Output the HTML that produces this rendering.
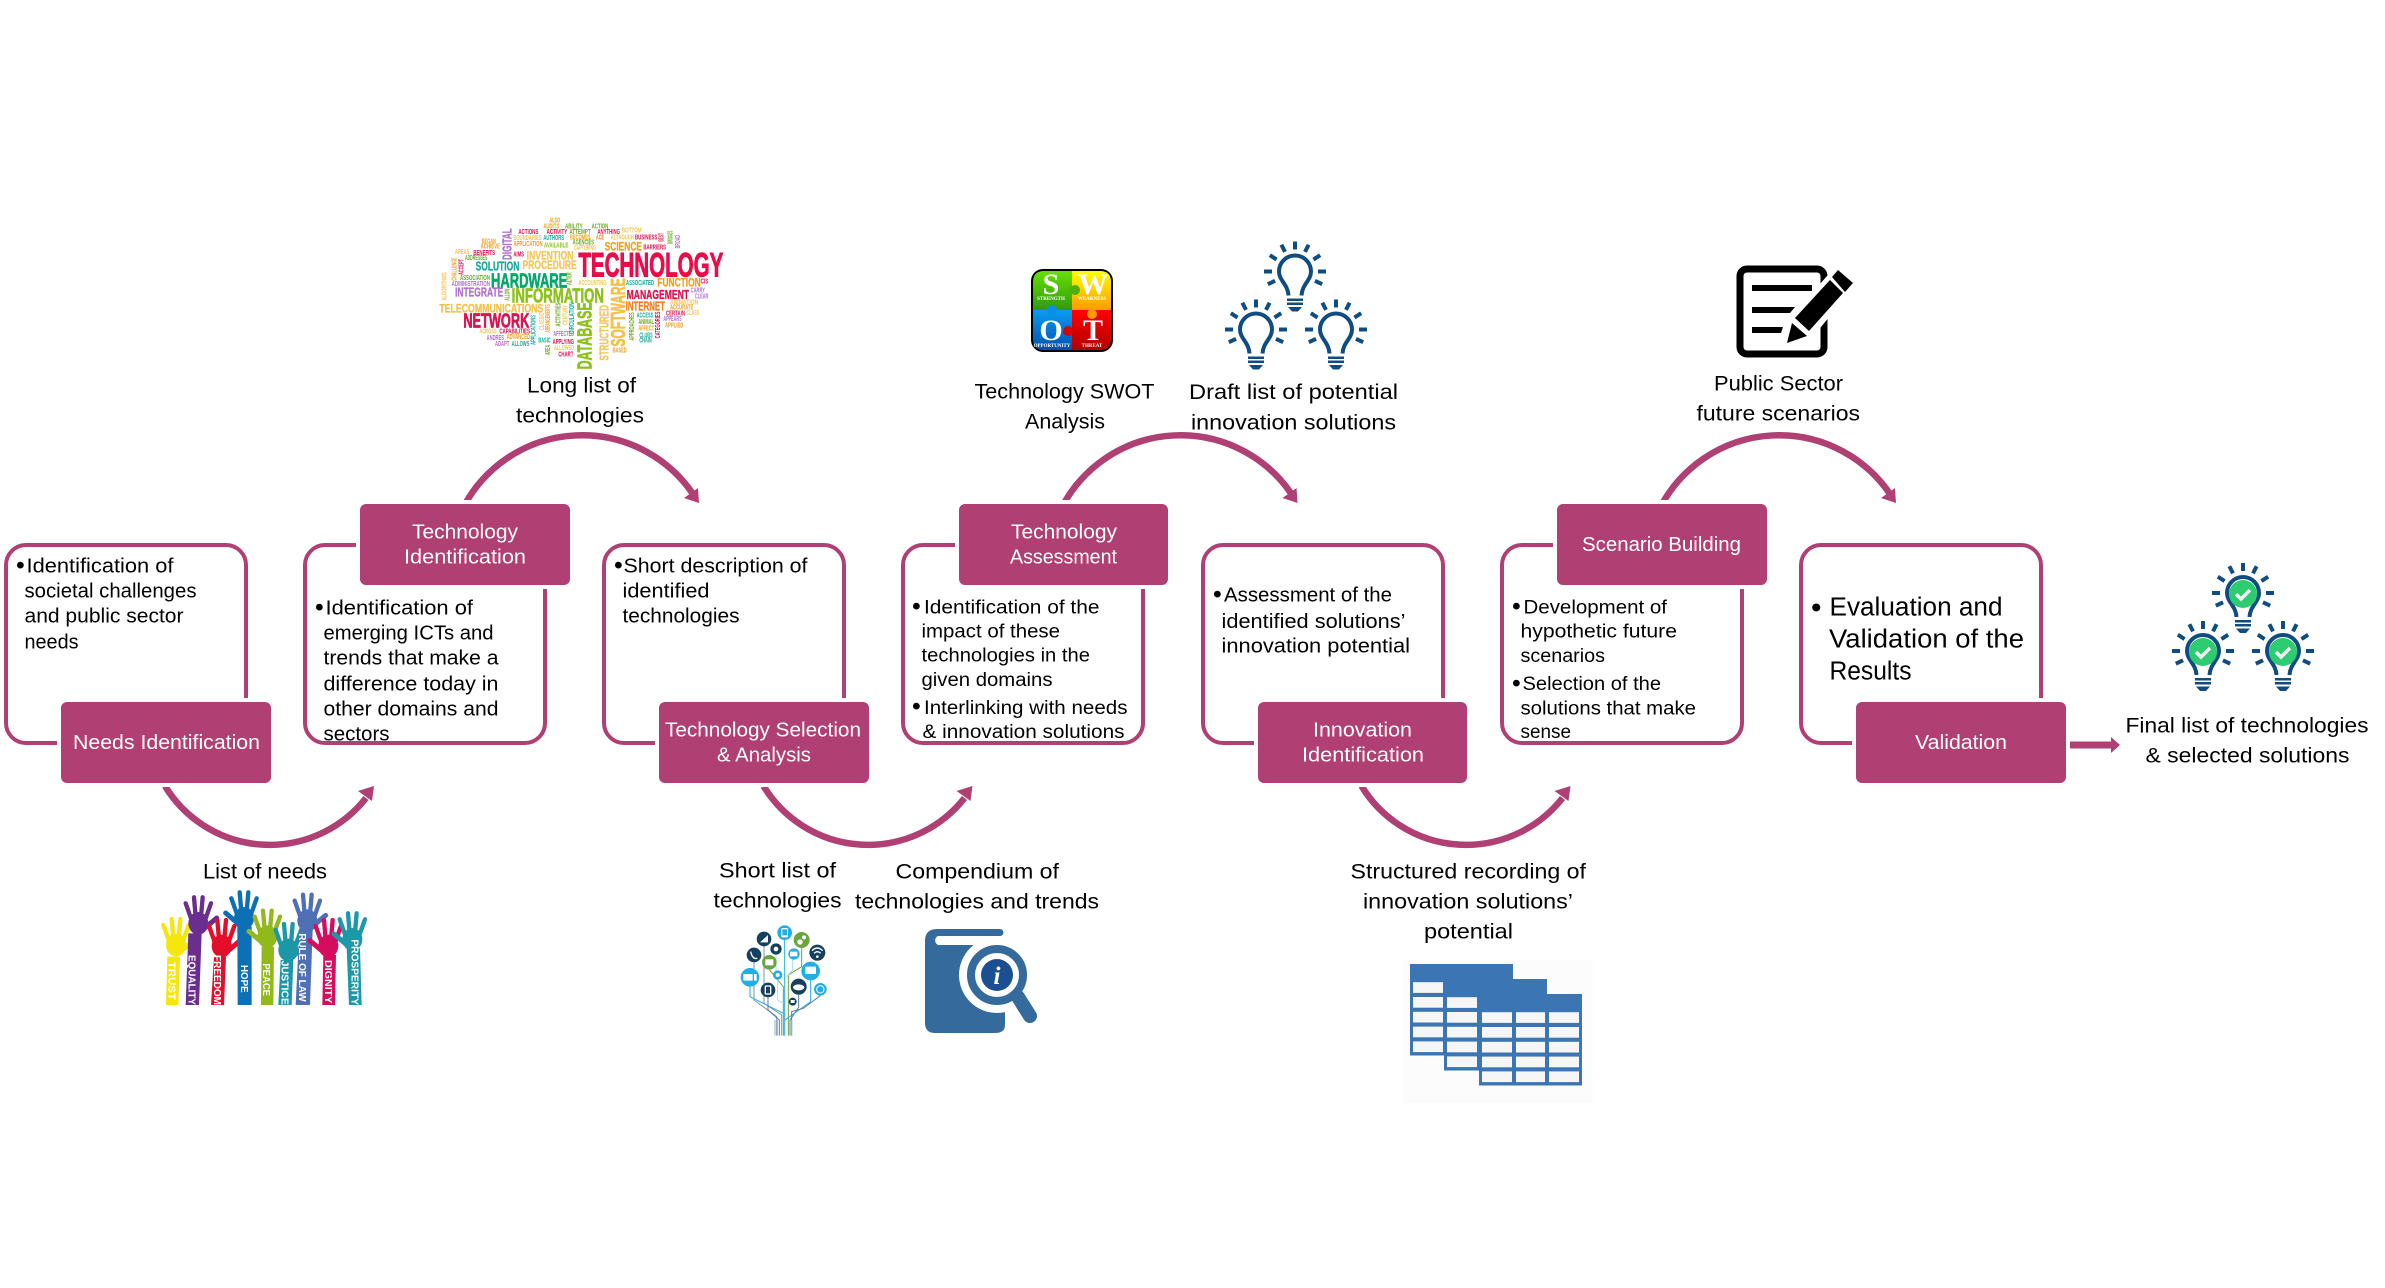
<!DOCTYPE html>
<html><head><meta charset="utf-8"><title>Process diagram</title>
<style>
html,body{margin:0;padding:0;background:#fff;width:2385px;height:1288px;overflow:hidden}
svg{display:block}
text{font-family:"Liberation Sans",sans-serif}
.w{fill:#fff;font-size:20.5px}
.b{fill:#000;font-size:20px}
.l{fill:#000;font-size:21.5px}
.d{fill:#000;font-size:19px}
.big{fill:#000;font-size:25.5px}
.bu{fill:#000;font-size:25px}
.wc text{font-weight:bold;font-size:22px}
.hd text{fill:#fff;font-weight:bold;font-size:30px}
</style></head><body>
<svg xmlns="http://www.w3.org/2000/svg" width="2385" height="1288" viewBox="0 0 2385 1288">
<defs>
<filter id="soft" x="-5%" y="-5%" width="110%" height="110%"><feGaussianBlur stdDeviation="0.35"/></filter>
<linearGradient id="gS" x1="0" y1="0" x2="0" y2="1"><stop offset="0" stop-color="#66e000"/><stop offset="1" stop-color="#2f9a10"/></linearGradient>
<linearGradient id="gW" x1="0" y1="0" x2="0" y2="1"><stop offset="0" stop-color="#ffff00"/><stop offset="1" stop-color="#ff9a00"/></linearGradient>
<linearGradient id="gO" x1="0" y1="0" x2="0" y2="1"><stop offset="0" stop-color="#0a9cf0"/><stop offset="1" stop-color="#0050b0"/></linearGradient>
<linearGradient id="gT" x1="0" y1="0" x2="0" y2="1"><stop offset="0" stop-color="#ff0000"/><stop offset="1" stop-color="#b00000"/></linearGradient>
<g id="top"><path d="M464 506A134 134 0 0 1 693 494" fill="none" stroke="#b03f73" stroke-width="6.500"/><path d="M699 503L684 498L698 488Z" fill="#b03f73"/></g>
<g id="bot"><path d="M165 786A122.500 122.500 0 0 0 366 798" fill="none" stroke="#b03f73" stroke-width="6.500"/><path d="M374 786L358 791L372 801Z" fill="#b03f73"/></g>
<g id="bulb" fill="none" stroke="#0f4c81">
<path d="M-6.500 24C-7 13-16 9-16 0A16 16 0 1 1 16 0C16 9 7 13 6.500 24" stroke-width="4"/>
<g stroke="none" fill="#0f4c81">
<rect x="-2" y="-30" width="4" height="8"/><rect x="-2" y="-30" width="4" height="8" transform="rotate(27)"/><rect x="-2" y="-30" width="4" height="8" transform="rotate(-27)"/><rect x="-2" y="-30" width="4" height="8" transform="rotate(57)"/><rect x="-2" y="-30" width="4" height="8" transform="rotate(-57)"/><rect x="-2" y="-31" width="4" height="8" transform="rotate(90)"/><rect x="-2" y="-31" width="4" height="8" transform="rotate(-90)"/><rect x="-2" y="-30" width="4" height="8" transform="rotate(115)"/><rect x="-2" y="-30" width="4" height="8" transform="rotate(-115)"/>
<rect x="-8" y="27" width="16" height="2.500"/><rect x="-8" y="31" width="16" height="2.500"/><path d="M-7 35.500H7L3 40H-3Z"/>
</g></g>
<g id="gbulb"><use href="#bulb"/><circle r="14" cy="1" fill="#2ecc71"/><path d="M-7 1L-2 6L7-3" fill="none" stroke="#f2f2f2" stroke-width="3.500"/></g>
<g id="hand" fill="currentColor" stroke="currentColor" stroke-linecap="round">
<ellipse rx="30" ry="34" stroke="none"/>
<path d="M-22-15L-38-60M-8-20L-13-78M8-20L13-78M22-15L38-60" stroke-width="13" fill="none"/>
<path d="M22 12L55-16" stroke-width="15" fill="none"/>
</g>
<g id="tbl">
<rect width="103" height="91.500" fill="#3b75b3"/>
<g fill="#f6f6f6">
<rect x="3" y="18.200" width="30" height="10.700"/><rect x="37" y="18.200" width="29" height="10.700"/><rect x="70" y="18.200" width="30" height="10.700"/>
<rect x="3" y="33" width="30" height="10.700"/><rect x="37" y="33" width="29" height="10.700"/><rect x="70" y="33" width="30" height="10.700"/>
<rect x="3" y="47.800" width="30" height="10.700"/><rect x="37" y="47.800" width="29" height="10.700"/><rect x="70" y="47.800" width="30" height="10.700"/>
<rect x="3" y="62.600" width="30" height="10.700"/><rect x="37" y="62.600" width="29" height="10.700"/><rect x="70" y="62.600" width="30" height="10.700"/>
<rect x="3" y="77.400" width="30" height="10.700"/><rect x="37" y="77.400" width="29" height="10.700"/><rect x="70" y="77.400" width="30" height="10.700"/>
</g></g>
</defs>
<rect width="2385" height="1288" fill="#fff"/>

<!-- arcs -->
<use href="#top"/><use href="#top" x="598.500"/><use href="#top" x="1197"/>
<use href="#bot"/><use href="#bot" x="598.500"/><use href="#bot" x="1196.500"/>

<!-- outline boxes -->
<g fill="none" stroke="#b03f73" stroke-width="4">
<rect x="6" y="545" width="240" height="198" rx="20"/>
<rect x="305" y="545" width="240" height="198" rx="20"/>
<rect x="604" y="545" width="240" height="198" rx="20"/>
<rect x="903" y="545" width="240" height="198" rx="20"/>
<rect x="1203" y="545" width="240" height="198" rx="20"/>
<rect x="1502" y="545" width="240" height="198" rx="20"/>
<rect x="1801" y="545" width="240" height="198" rx="20"/>
</g>

<!-- purple rects -->
<g fill="#fff">
<rect x="57" y="698" width="218" height="89" rx="8"/><rect x="356" y="500" width="218" height="89" rx="8"/><rect x="655" y="698" width="218" height="89" rx="8"/><rect x="955" y="500" width="217" height="89" rx="8"/><rect x="1254" y="698" width="217" height="89" rx="8"/><rect x="1553" y="500" width="218" height="89" rx="8"/><rect x="1852" y="698" width="218" height="89" rx="8"/>
</g>
<g fill="#b03f73">
<rect x="61" y="702" width="210" height="81" rx="6"/><rect x="360" y="504" width="210" height="81" rx="6"/><rect x="659" y="702" width="210" height="81" rx="6"/><rect x="959" y="504" width="209" height="81" rx="6"/><rect x="1258" y="702" width="209" height="81" rx="6"/><rect x="1557" y="504" width="210" height="81" rx="6"/><rect x="1856" y="702" width="210" height="81" rx="6"/>
</g>
<g class="tw">
<text class="w" x="73" y="749" textLength="187" lengthAdjust="spacingAndGlyphs">Needs Identification</text>
<text class="w" x="412" y="538.500" textLength="106" lengthAdjust="spacingAndGlyphs">Technology</text>
<text class="w" x="404" y="563.500" textLength="122" lengthAdjust="spacingAndGlyphs">Identification</text>
<text class="w" x="665" y="736.500" textLength="196" lengthAdjust="spacingAndGlyphs">Technology Selection</text>
<text class="w" x="717" y="761.500" textLength="94" lengthAdjust="spacingAndGlyphs">&amp; Analysis</text>
<text class="w" x="1011" y="538.500" textLength="106" lengthAdjust="spacingAndGlyphs">Technology</text>
<text class="w" x="1010" y="563.500" textLength="107" lengthAdjust="spacingAndGlyphs">Assessment</text>
<text class="w" x="1313" y="736.500" textLength="99" lengthAdjust="spacingAndGlyphs">Innovation</text>
<text class="w" x="1302" y="761.500" textLength="122" lengthAdjust="spacingAndGlyphs">Identification</text>
<text class="w" x="1582" y="551" textLength="159" lengthAdjust="spacingAndGlyphs">Scenario Building</text>
<text class="w" x="1915" y="749" textLength="92" lengthAdjust="spacingAndGlyphs">Validation</text>
</g>

<g transform="translate(0,-1.5)">
<!-- box 1 -->
<text class="bu" x="16" y="575">•</text>
<text class="b" x="26.500" y="574" textLength="147" lengthAdjust="spacingAndGlyphs">Identification of</text>
<text class="b" x="24.500" y="599" textLength="172" lengthAdjust="spacingAndGlyphs">societal challenges</text>
<text class="b" x="24.500" y="624" textLength="159" lengthAdjust="spacingAndGlyphs">and public sector</text>
<text class="b" x="24.500" y="650" textLength="54" lengthAdjust="spacingAndGlyphs">needs</text>
<!-- box 2 -->
<text class="bu" x="315" y="617">•</text>
<text class="b" x="325.500" y="616" textLength="147.500" lengthAdjust="spacingAndGlyphs">Identification of</text>
<text class="b" x="323.500" y="641" textLength="170" lengthAdjust="spacingAndGlyphs">emerging ICTs and</text>
<text class="b" x="323.500" y="666" textLength="175" lengthAdjust="spacingAndGlyphs">trends that make a</text>
<text class="b" x="323.500" y="692" textLength="175" lengthAdjust="spacingAndGlyphs">difference today in</text>
<text class="b" x="323.500" y="717" textLength="175" lengthAdjust="spacingAndGlyphs">other domains and</text>
<text class="b" x="323.500" y="742" textLength="66" lengthAdjust="spacingAndGlyphs">sectors</text>
<!-- box 3 -->
<text class="bu" x="614" y="575">•</text>
<text class="b" x="623.500" y="574" textLength="184" lengthAdjust="spacingAndGlyphs">Short description of</text>
<text class="b" x="622.500" y="599" textLength="87" lengthAdjust="spacingAndGlyphs">identified</text>
<text class="b" x="622.500" y="624" textLength="117" lengthAdjust="spacingAndGlyphs">technologies</text>
<!-- box 4 -->
<text class="bu" x="912" y="616">•</text>
<text class="d" x="924" y="615" textLength="175.500" lengthAdjust="spacingAndGlyphs">Identification of the</text>
<text class="d" x="921.500" y="639" textLength="138.500" lengthAdjust="spacingAndGlyphs">impact of these</text>
<text class="d" x="921.500" y="663" textLength="168.500" lengthAdjust="spacingAndGlyphs">technologies in the</text>
<text class="d" x="921.500" y="687.500" textLength="131" lengthAdjust="spacingAndGlyphs">given domains</text>
<text class="bu" x="912" y="716">•</text>
<text class="d" x="924" y="715.500" textLength="203.500" lengthAdjust="spacingAndGlyphs">Interlinking with needs</text>
<text class="d" x="922.500" y="739.500" textLength="202" lengthAdjust="spacingAndGlyphs">&amp; innovation solutions</text>
<!-- box 5 -->
<text class="bu" x="1213" y="604">•</text>
<text class="b" x="1224" y="603" textLength="168" lengthAdjust="spacingAndGlyphs">Assessment of the</text>
<text class="b" x="1221.500" y="629.500" textLength="184" lengthAdjust="spacingAndGlyphs">identified solutions’</text>
<text class="b" x="1221.500" y="654" textLength="188.500" lengthAdjust="spacingAndGlyphs">innovation potential</text>
<!-- box 6 -->
<text class="bu" x="1512" y="616">•</text>
<text class="d" x="1523.500" y="615" textLength="143.500" lengthAdjust="spacingAndGlyphs">Development of</text>
<text class="d" x="1520.500" y="639" textLength="156.500" lengthAdjust="spacingAndGlyphs">hypothetic future</text>
<text class="d" x="1520.500" y="663.500" textLength="84.500" lengthAdjust="spacingAndGlyphs">scenarios</text>
<text class="bu" x="1512" y="693">•</text>
<text class="d" x="1522.500" y="691.500" textLength="138.500" lengthAdjust="spacingAndGlyphs">Selection of the</text>
<text class="d" x="1520.500" y="716" textLength="175.500" lengthAdjust="spacingAndGlyphs">solutions that make</text>
<text class="d" x="1520.500" y="739.500" textLength="50.500" lengthAdjust="spacingAndGlyphs">sense</text>
<!-- box 7 -->
<text class="big" x="1811" y="619" style="font-size:30px">•</text>
<text class="big" x="1829.500" y="617" textLength="173" lengthAdjust="spacingAndGlyphs">Evaluation and</text>
<text class="big" x="1829" y="649" textLength="195" lengthAdjust="spacingAndGlyphs">Validation of the</text>
<text class="big" x="1829.500" y="681" textLength="82" lengthAdjust="spacingAndGlyphs">Results</text>

<!-- labels -->
<text class="l" x="527" y="394" textLength="109" lengthAdjust="spacingAndGlyphs">Long list of</text>
<text class="l" x="516" y="424" textLength="128" lengthAdjust="spacingAndGlyphs">technologies</text>
<text class="l" x="203" y="880" textLength="124" lengthAdjust="spacingAndGlyphs">List of needs</text>
<text class="l" x="719" y="879" textLength="117" lengthAdjust="spacingAndGlyphs">Short list of</text>
<text class="l" x="713.500" y="909" textLength="128" lengthAdjust="spacingAndGlyphs">technologies</text>
<text class="l" x="895.500" y="880" textLength="163.500" lengthAdjust="spacingAndGlyphs">Compendium of</text>
<text class="l" x="855" y="910" textLength="244" lengthAdjust="spacingAndGlyphs">technologies and trends</text>
<text class="l" x="974.500" y="400" textLength="180" lengthAdjust="spacingAndGlyphs">Technology SWOT</text>
<text class="l" x="1025" y="430" textLength="80" lengthAdjust="spacingAndGlyphs">Analysis</text>
<text class="l" x="1189" y="400.500" textLength="209" lengthAdjust="spacingAndGlyphs">Draft list of potential</text>
<text class="l" x="1191" y="431" textLength="205" lengthAdjust="spacingAndGlyphs">innovation solutions</text>
<text class="l" x="1350.500" y="880" textLength="235.500" lengthAdjust="spacingAndGlyphs">Structured recording of</text>
<text class="l" x="1363" y="910" textLength="210" lengthAdjust="spacingAndGlyphs">innovation solutions’</text>
<text class="l" x="1424" y="940" textLength="89" lengthAdjust="spacingAndGlyphs">potential</text>
<text class="l" x="1714" y="392" textLength="129" lengthAdjust="spacingAndGlyphs">Public Sector</text>
<text class="l" x="1696.500" y="422" textLength="163.500" lengthAdjust="spacingAndGlyphs">future scenarios</text>
<text class="l" x="2125.500" y="734" textLength="243" lengthAdjust="spacingAndGlyphs">Final list of technologies</text>
<text class="l" x="2145.500" y="764" textLength="204" lengthAdjust="spacingAndGlyphs">&amp; selected solutions</text>
</g>

<!-- final arrow -->
<path d="M2070 741.500H2111V737L2120 745L2111 753V748.500H2070Z" fill="#b03f73"/>

<!-- word cloud -->
<g class="wc" transform="translate(430,210) scale(.33333)" filter="url(#soft)">
<text x="445" y="200" textLength="435" lengthAdjust="spacingAndGlyphs" fill="#e8114a" stroke="#e8114a" stroke-width="3" style="font-size:104px">TECHNOLOGY</text>
<text x="183" y="232" textLength="229" lengthAdjust="spacingAndGlyphs" fill="#00a86b" stroke="#00a86b" stroke-width="2" style="font-size:62px">HARDWARE</text>
<text x="245" y="278" textLength="277" lengthAdjust="spacingAndGlyphs" fill="#8cc21a" stroke="#8cc21a" stroke-width="2" style="font-size:62px">INFORMATION</text>
<text x="100" y="352" textLength="198" lengthAdjust="spacingAndGlyphs" fill="#d9124f" stroke="#d9124f" stroke-width="2" style="font-size:62px">NETWORK</text>
<text x="28" y="307" textLength="312" lengthAdjust="spacingAndGlyphs" fill="#f4c04a" stroke="#f4c04a" stroke-width="1" style="font-size:36px">TELECOMMUNICATIONS</text>
<text x="137" y="182" textLength="131" lengthAdjust="spacingAndGlyphs" fill="#16a89a" stroke="#16a89a" stroke-width="1" style="font-size:40px">SOLUTION</text>
<text x="278" y="177" textLength="162" lengthAdjust="spacingAndGlyphs" fill="#f4c656" stroke="#f4c656" stroke-width="1" style="font-size:36px">PROCEDURE</text>
<text x="290" y="148" textLength="140" lengthAdjust="spacingAndGlyphs" fill="#f4c656" stroke="#f4c656" stroke-width="1" style="font-size:36px">INVENTION</text>
<text x="75" y="260" textLength="145" lengthAdjust="spacingAndGlyphs" fill="#b070d0" stroke="#b070d0" stroke-width="1" style="font-size:40px">INTEGRATE</text>
<text x="524" y="122" textLength="112" lengthAdjust="spacingAndGlyphs" fill="#f0a020" stroke="#f0a020" stroke-width="1" style="font-size:36px">SCIENCE</text>
<text x="682" y="230" textLength="130" lengthAdjust="spacingAndGlyphs" fill="#f0a020" stroke="#f0a020" stroke-width="1" style="font-size:36px">FUNCTION</text>
<text x="590" y="267" textLength="187" lengthAdjust="spacingAndGlyphs" fill="#d9124f" stroke="#d9124f" stroke-width="1" style="font-size:40px">MANAGEMENT</text>
<text x="587" y="302" textLength="118" lengthAdjust="spacingAndGlyphs" fill="#f08020" stroke="#f08020" stroke-width="1" style="font-size:40px">INTERNET</text>
<text transform="translate(485,478) rotate(-90)" textLength="201" lengthAdjust="spacingAndGlyphs" fill="#8cc21a" stroke="#8cc21a" stroke-width="2" style="font-size:62px">DATABASE</text>
<text transform="translate(585,410) rotate(-90)" textLength="205" lengthAdjust="spacingAndGlyphs" fill="#f4c04a" stroke="#f4c04a" stroke-width="2" style="font-size:62px">SOFTWARE</text>
<text transform="translate(535,452) rotate(-90)" textLength="167" lengthAdjust="spacingAndGlyphs" fill="#f4c656" stroke="#f4c656" stroke-width="1" style="font-size:40px">STRUCTURED</text>
<text transform="translate(245,150) rotate(-90)" textLength="95" lengthAdjust="spacingAndGlyphs" fill="#b070d0" stroke="#b070d0" stroke-width="1" style="font-size:40px">DIGITAL</text>
<text x="358" y="38" textLength="32" lengthAdjust="spacingAndGlyphs" fill="#f0a020">ALSO</text>
<text x="340" y="55" textLength="48" lengthAdjust="spacingAndGlyphs" fill="#f0a020">AUDITS</text>
<text x="405" y="55" textLength="53" lengthAdjust="spacingAndGlyphs" fill="#6aaa20">ABILITY</text>
<text x="485" y="55" textLength="50" lengthAdjust="spacingAndGlyphs" fill="#6aaa20">ACTION</text>
<text x="575" y="68" textLength="60" lengthAdjust="spacingAndGlyphs" fill="#f4c656">BOTTOM</text>
<text x="265" y="72" textLength="60" lengthAdjust="spacingAndGlyphs" fill="#d9124f">ACTIONS</text>
<text x="350" y="72" textLength="62" lengthAdjust="spacingAndGlyphs" fill="#d9124f">ACTIVITY</text>
<text x="418" y="72" textLength="64" lengthAdjust="spacingAndGlyphs" fill="#6aaa20">ATTEMPT</text>
<text x="502" y="72" textLength="68" lengthAdjust="spacingAndGlyphs" fill="#d9124f">ANYTHING</text>
<text x="250" y="90" textLength="85" lengthAdjust="spacingAndGlyphs" fill="#f4c656">BOUNDARIES</text>
<text x="340" y="90" textLength="62" lengthAdjust="spacingAndGlyphs" fill="#16a89a">AUTHORS</text>
<text x="420" y="88" textLength="62" lengthAdjust="spacingAndGlyphs" fill="#f0a020">BECOMES</text>
<text x="498" y="88" textLength="24" lengthAdjust="spacingAndGlyphs" fill="#f08020">ACE</text>
<text x="542" y="88" textLength="70" lengthAdjust="spacingAndGlyphs" fill="#f4c656">ALTHOUGH</text>
<text x="615" y="88" textLength="67" lengthAdjust="spacingAndGlyphs" fill="#d9124f">BUSINESS</text>
<text x="155" y="100" textLength="43" lengthAdjust="spacingAndGlyphs" fill="#f0a020">BEGAN</text>
<text x="152" y="116" textLength="58" lengthAdjust="spacingAndGlyphs" fill="#f0a020">ACHIEVE</text>
<text x="250" y="108" textLength="88" lengthAdjust="spacingAndGlyphs" fill="#f0a020">APPLICATION</text>
<text x="342" y="112" textLength="73" lengthAdjust="spacingAndGlyphs" fill="#8cc21a">AVAILABLE</text>
<text x="428" y="104" textLength="64" lengthAdjust="spacingAndGlyphs" fill="#6aaa20">AGENCIES</text>
<text x="432" y="120" textLength="66" lengthAdjust="spacingAndGlyphs" fill="#f4c656">CAPTURING</text>
<text x="640" y="118" textLength="68" lengthAdjust="spacingAndGlyphs" fill="#d9124f">BARRIERS</text>
<text x="75" y="132" textLength="43" lengthAdjust="spacingAndGlyphs" fill="#f4c656">AREAS</text>
<text x="130" y="135" textLength="65" lengthAdjust="spacingAndGlyphs" fill="#d9124f">BENEFITS</text>
<text x="105" y="150" textLength="67" lengthAdjust="spacingAndGlyphs" fill="#6aaa20">ADDRESSES</text>
<text x="250" y="140" textLength="32" lengthAdjust="spacingAndGlyphs" fill="#d9124f">AIMS</text>
<text x="812" y="220" textLength="23" lengthAdjust="spacingAndGlyphs" fill="#d9124f">CIS</text>
<text x="90" y="210" textLength="90" lengthAdjust="spacingAndGlyphs" fill="#6aaa20">ASSOCIATION</text>
<text x="65" y="228" textLength="115" lengthAdjust="spacingAndGlyphs" fill="#b070d0">ADMINISTRATION</text>
<text x="445" y="225" textLength="85" lengthAdjust="spacingAndGlyphs" fill="#f4c656">ACCOUNTING</text>
<text x="588" y="225" textLength="84" lengthAdjust="spacingAndGlyphs" fill="#16a89a">ASSOCIATED</text>
<text x="782" y="247" textLength="43" lengthAdjust="spacingAndGlyphs" fill="#b070d0">CARRY</text>
<text x="795" y="265" textLength="40" lengthAdjust="spacingAndGlyphs" fill="#b070d0">CLEAR</text>
<text x="720" y="283" textLength="85" lengthAdjust="spacingAndGlyphs" fill="#f4c656">ANIMATION</text>
<text x="720" y="298" textLength="70" lengthAdjust="spacingAndGlyphs" fill="#f0a020">ACCURATE</text>
<text x="708" y="317" textLength="57" lengthAdjust="spacingAndGlyphs" fill="#d9124f">CERTAIN</text>
<text x="770" y="315" textLength="38" lengthAdjust="spacingAndGlyphs" fill="#f4c656">CLASS</text>
<text x="620" y="322" textLength="50" lengthAdjust="spacingAndGlyphs" fill="#16a89a">ACCESS</text>
<text x="700" y="333" textLength="55" lengthAdjust="spacingAndGlyphs" fill="#b070d0">APPEARS</text>
<text x="625" y="342" textLength="47" lengthAdjust="spacingAndGlyphs" fill="#6aaa20">ANIMAL</text>
<text x="705" y="353" textLength="55" lengthAdjust="spacingAndGlyphs" fill="#f0a020">APPLIED</text>
<text x="625" y="362" textLength="47" lengthAdjust="spacingAndGlyphs" fill="#f0a020">AFFECT</text>
<text x="628" y="382" textLength="40" lengthAdjust="spacingAndGlyphs" fill="#16a89a">CLUBS</text>
<text x="628" y="398" textLength="37" lengthAdjust="spacingAndGlyphs" fill="#16a89a">CHAIN</text>
<text x="148" y="370" textLength="52" lengthAdjust="spacingAndGlyphs" fill="#f4c656">ACROSS</text>
<text x="208" y="371" textLength="92" lengthAdjust="spacingAndGlyphs" fill="#d9124f">CAPABILITIES</text>
<text x="170" y="390" textLength="52" lengthAdjust="spacingAndGlyphs" fill="#b070d0">ANDRES</text>
<text x="230" y="387" textLength="70" lengthAdjust="spacingAndGlyphs" fill="#f0a020">ADVANCED</text>
<text x="195" y="408" textLength="43" lengthAdjust="spacingAndGlyphs" fill="#b070d0">ADAPT</text>
<text x="245" y="408" textLength="53" lengthAdjust="spacingAndGlyphs" fill="#16a89a">ALLOWS</text>
<text x="325" y="398" textLength="37" lengthAdjust="spacingAndGlyphs" fill="#16a89a">BASIC</text>
<text x="368" y="402" textLength="64" lengthAdjust="spacingAndGlyphs" fill="#d9124f">APPLYING</text>
<text x="370" y="378" textLength="62" lengthAdjust="spacingAndGlyphs" fill="#b070d0">AFFECTED</text>
<text x="372" y="420" textLength="60" lengthAdjust="spacingAndGlyphs" fill="#f4c656">ALLOWED</text>
<text x="385" y="440" textLength="45" lengthAdjust="spacingAndGlyphs" fill="#d9124f">CHART</text>
<text x="548" y="428" textLength="42" lengthAdjust="spacingAndGlyphs" fill="#f0a020">BASED</text>
<text transform="translate(80,212) rotate(-90)" textLength="70" lengthAdjust="spacingAndGlyphs" fill="#f0a020">CHALLENGE</text>
<text transform="translate(100,195) rotate(-90)" textLength="48" lengthAdjust="spacingAndGlyphs" fill="#d9124f">ACCEPT</text>
<text transform="translate(50,272) rotate(-90)" textLength="85" lengthAdjust="spacingAndGlyphs" fill="#f4c656">ALGORITHMS</text>
<text transform="translate(238,272) rotate(-90)" textLength="36" lengthAdjust="spacingAndGlyphs" fill="#6aaa20">ALLOW</text>
<text transform="translate(425,225) rotate(-90)" textLength="38" lengthAdjust="spacingAndGlyphs" fill="#6aaa20">ALTER</text>
<text transform="translate(316,405) rotate(-90)" textLength="90" lengthAdjust="spacingAndGlyphs" fill="#16a89a">APPLICATIONS</text>
<text transform="translate(342,360) rotate(-90)" textLength="52" lengthAdjust="spacingAndGlyphs" fill="#f4c656">CLASSIC</text>
<text transform="translate(360,368) rotate(-90)" textLength="85" lengthAdjust="spacingAndGlyphs" fill="#f0a020">ARRANGEMENTS</text>
<text transform="translate(392,350) rotate(-90)" textLength="72" lengthAdjust="spacingAndGlyphs" fill="#6aaa20">ACTIVITIES</text>
<text transform="translate(412,345) rotate(-90)" textLength="60" lengthAdjust="spacingAndGlyphs" fill="#f4c656">CENTURY</text>
<text transform="translate(432,372) rotate(-90)" textLength="95" lengthAdjust="spacingAndGlyphs" fill="#16a89a">CIRCULATION</text>
<text transform="translate(360,435) rotate(-90)" textLength="30" lengthAdjust="spacingAndGlyphs" fill="#6aaa20">AREA</text>
<text transform="translate(612,392) rotate(-90)" textLength="85" lengthAdjust="spacingAndGlyphs" fill="#6aaa20">APPROACHES</text>
<text transform="translate(690,385) rotate(-90)" textLength="80" lengthAdjust="spacingAndGlyphs" fill="#d9124f">CATEGORIES</text>
<text transform="translate(700,95) rotate(-90)" textLength="26" lengthAdjust="spacingAndGlyphs" fill="#d9124f">BEST</text>
<text transform="translate(728,102) rotate(-90)" textLength="40" lengthAdjust="spacingAndGlyphs" fill="#6aaa20">BRIDGES</text>
<text transform="translate(750,115) rotate(-90)" textLength="40" lengthAdjust="spacingAndGlyphs" fill="#b070d0">BROAD</text>
</g>

<!-- hands -->
<g transform="translate(150,890) scale(.33333)" filter="url(#soft)">
<path d="M48 345L52 200H90L85 345Z" fill="#f5e60a"/><use href="#hand" transform="translate(78,165)" style="color:#f5e60a"/>
<path d="M107 345L115 130H155L147 345Z" fill="#6a2f8f"/><use href="#hand" transform="translate(145,100)" style="color:#6a2f8f"/>
<path d="M183 345L192 200H228L222 345Z" fill="#e4112a"/><use href="#hand" transform="translate(215,168)" style="color:#e4112a"/>
<path d="M263 345L262 110H305L305 345Z" fill="#0f6fb5"/><use href="#hand" transform="translate(282,85) scale(-1,1)" style="color:#0f6fb5"/>
<path d="M333 345L335 170H372L370 345Z" fill="#93b81a"/><use href="#hand" transform="translate(352,140) scale(-1,1)" style="color:#93b81a"/>
<path d="M385 345L392 210H430L425 345Z" fill="#1c97a8"/><use href="#hand" transform="translate(415,180)" style="color:#1c97a8"/>
<path d="M437 345L448 120H488L480 345Z" fill="#4f6fb5"/><use href="#hand" transform="translate(472,92)" style="color:#4f6fb5"/>
<path d="M517 345L520 195H558L555 345Z" fill="#d6095f"/><use href="#hand" transform="translate(535,168) scale(-1,1)" style="color:#d6095f"/>
<path d="M597 345L590 175H630L635 345Z" fill="#1d98a8"/><use href="#hand" transform="translate(607,148) scale(-1,1)" style="color:#1d98a8"/>
<g class="hd">
<text transform="translate(56,215) rotate(90)" textLength="115" lengthAdjust="spacingAndGlyphs">TRUST</text>
<text transform="translate(116,195) rotate(90)" textLength="150" lengthAdjust="spacingAndGlyphs">EQUALITY</text>
<text transform="translate(192,195) rotate(90)" textLength="150" lengthAdjust="spacingAndGlyphs">FREEDOM</text>
<text transform="translate(273,225) rotate(90)" textLength="83" lengthAdjust="spacingAndGlyphs">HOPE</text>
<text transform="translate(339,220) rotate(90)" textLength="98" lengthAdjust="spacingAndGlyphs">PEACE</text>
<text transform="translate(394,212) rotate(90)" textLength="133" lengthAdjust="spacingAndGlyphs">JUSTICE</text>
<text transform="translate(447,130) rotate(90)" textLength="205" lengthAdjust="spacingAndGlyphs">RULE OF LAW</text>
<text transform="translate(525,210) rotate(90)" textLength="130" lengthAdjust="spacingAndGlyphs">DIGNITY</text>
<text transform="translate(604,148) rotate(90)" textLength="197" lengthAdjust="spacingAndGlyphs">PROSPERITY</text>
</g></g>

<!-- tree -->
<g transform="translate(720,920) scale(.33333)" filter="url(#soft)">
<g fill="none" stroke-width="3">
<path d="M194 60V347" stroke="#21aee5"/>
<path d="M132 79V250L185 285V347" stroke="#7a96aa"/>
<path d="M245 84V140L205 165V347" stroke="#6aa541"/>
<path d="M148 149L190 200V347" stroke="#6aa541"/>
<path d="M102 127V240L170 290V347" stroke="#7a96aa"/>
<path d="M90 200V230L190 280" stroke="#21aee5"/>
<path d="M144 232V270L178 300V347" stroke="#5a7f9c"/>
<path d="M236 224V262L210 300V347" stroke="#5a7f9c"/>
<path d="M272 181V245L195 300" stroke="#21aee5"/>
<path d="M301 227L250 265L215 275V347" stroke="#5a7f9c"/>
<path d="M218 119V150L200 170" stroke="#a5def5"/>
<path d="M173 179V240L190 250" stroke="#a5def5"/>
<path d="M168 104V180" stroke="#a5def5"/>
<path d="M165 300V347M172 300V347M215 300V347" stroke="#9ab0c0"/>
</g>
<circle cx="194" cy="38" r="22" fill="#21aee5"/><rect x="184" y="24" width="20" height="28" rx="3" fill="#fff"/><rect x="187" y="28" width="14" height="18" fill="#21aee5"/>
<circle cx="132" cy="57" r="22" fill="#13405f"/><path d="M120 67H144V45Z" fill="#fff"/>
<circle cx="245" cy="60" r="24" fill="#6aa541"/><circle cx="240" cy="66" r="8" fill="#fff"/><circle cx="252" cy="52" r="6" fill="#fff"/>
<circle cx="168" cy="87" r="17" fill="#13405f"/><circle cx="168" cy="87" r="7" fill="#fff"/>
<circle cx="102" cy="105" r="22" fill="#13405f"/><path d="M92 95C96 115 106 118 112 114" fill="none" stroke="#fff" stroke-width="4"/>
<circle cx="222" cy="102" r="17" fill="#21aee5"/><rect x="210" y="95" width="22" height="14" fill="#fff"/>
<circle cx="292" cy="98" r="24" fill="#13405f"/><path d="M276 92Q292 76 308 92M282 100Q292 90 302 100" fill="none" stroke="#fff" stroke-width="4"/><circle cx="292" cy="110" r="4" fill="#fff"/>
<circle cx="148" cy="127" r="22" fill="#6aa541"/><rect x="136" y="118" width="24" height="18" fill="#fff"/>
<circle cx="173" cy="165" r="14" fill="#21aee5"/><circle cx="173" cy="165" r="6" fill="#fff"/>
<circle cx="272" cy="153" r="28" fill="#21aee5"/><rect x="256" y="140" width="32" height="22" rx="2" fill="#fff"/>
<circle cx="90" cy="172" r="28" fill="#21aee5"/><rect x="70" y="162" width="28" height="20" rx="2" fill="#fff"/><rect x="102" y="162" width="8" height="20" fill="#fff"/>
<circle cx="144" cy="210" r="22" fill="#13405f"/><rect x="134" y="196" width="20" height="28" rx="3" fill="#fff"/><rect x="138" y="200" width="12" height="20" fill="#13405f"/>
<circle cx="236" cy="200" r="24" fill="#13405f"/><ellipse cx="236" cy="202" rx="17" ry="9" fill="#fff"/>
<circle cx="301" cy="208" r="19" fill="#21aee5"/><circle cx="301" cy="208" r="11" fill="none" stroke="#fff" stroke-width="3"/>
<circle cx="218" cy="245" r="12" fill="#13405f"/><rect x="212" y="240" width="12" height="9" fill="#fff"/>
</g>

<!-- book -->
<g filter="url(#soft)">
<path d="M937 929H1000A3.500 3.500 0 0 1 1000 936H938A5 5 0 0 0 938 945H978V1000H1005V1025Q1005 1033 995 1033H935Q925 1033 925 1023V941Q925 929 937 929Z" fill="#356a9c"/>
<circle cx="997" cy="975" r="38" fill="#fff"/>
<path d="M1018 997L1030 1016" stroke="#fff" stroke-width="22" stroke-linecap="round"/>
<path d="M1018 997L1030 1016" stroke="#356a9c" stroke-width="14" stroke-linecap="round"/>
<circle cx="997" cy="975" r="26" fill="none" stroke="#356a9c" stroke-width="8"/>
<circle cx="997" cy="975" r="16" fill="#1d4f92"/>
<text x="997" y="984" text-anchor="middle" fill="#fff" style="font-family:'Liberation Serif',serif;font-style:italic;font-weight:bold;font-size:25px">i</text>
</g>

<!-- SWOT -->
<g>
<rect x="1031" y="269" width="82" height="83" rx="12" fill="#000"/>
<path d="M1072 271H1044Q1033 271 1033 282V310H1072Z" fill="url(#gS)"/>
<path d="M1072 271H1100Q1111 271 1111 282V310H1072Z" fill="url(#gW)"/>
<path d="M1072 310H1033V339Q1033 350 1044 350H1072Z" fill="url(#gO)"/>
<path d="M1072 310H1111V339Q1111 350 1100 350H1072Z" fill="url(#gT)"/>
<circle cx="1075" cy="290" r="5" fill="#4fae10"/><circle cx="1052" cy="310" r="5" fill="#0a90e0"/><circle cx="1092" cy="314" r="5" fill="#ff9a00"/><circle cx="1068" cy="331" r="5" fill="#dd0000"/>
<g fill="#fff" text-anchor="middle" style="font-family:'Liberation Serif',serif;font-weight:bold">
<text x="1051" y="294" font-size="30" style="font-family:'Liberation Serif',serif">S</text>
<text x="1093" y="294" font-size="30" style="font-family:'Liberation Serif',serif">W</text>
<text x="1051" y="340" font-size="30" style="font-family:'Liberation Serif',serif">O</text>
<text x="1093" y="340" font-size="30" style="font-family:'Liberation Serif',serif">T</text>
<text x="1051" y="300" font-size="5" style="font-family:'Liberation Serif',serif">STRENGTH</text>
<text x="1092" y="300" font-size="5" style="font-family:'Liberation Serif',serif">WEAKNESS</text>
<text x="1052" y="347" font-size="5" style="font-family:'Liberation Serif',serif">OPPORTUNITY</text>
<text x="1092" y="347" font-size="5" style="font-family:'Liberation Serif',serif">THREAT</text>
</g></g>

<!-- bulbs -->
<use href="#bulb" transform="translate(1295,271.500)"/>
<use href="#bulb" transform="translate(1256,329.500)"/>
<use href="#bulb" transform="translate(1336,329.500)"/>
<use href="#gbulb" transform="translate(2243,593)"/>
<use href="#gbulb" transform="translate(2203,651)"/>
<use href="#gbulb" transform="translate(2283,651)"/>

<!-- tables -->
<rect x="1403" y="960" width="190" height="143" fill="#fcfcfc"/>
<use href="#tbl" transform="translate(1410,964)"/>
<use href="#tbl" transform="translate(1444,979)"/>
<use href="#tbl" transform="translate(1479,994)"/>

<!-- document with pencil -->
<rect x="1740" y="269" width="84" height="85" rx="7" fill="#fff" stroke="#000" stroke-width="7"/>
<rect x="1752" y="285" width="60" height="6" fill="#000"/>
<path d="M1752 307H1795L1790 313H1752Z" fill="#000"/>
<path d="M1752 327H1783L1781 333H1752Z" fill="#000"/>
<path d="M1787 343L1792 320L1830 278L1845 292L1810 335Z" fill="#fff" stroke="#fff" stroke-width="7"/>
<path d="M1832 277L1838 270L1853 283L1845 292Z" fill="#000"/>
<path d="M1795 318L1830 280L1843 293L1809 331Z" fill="#000"/>
<path d="M1787 343L1792 323L1807 336Z" fill="#000"/>
</svg>
</body></html>
